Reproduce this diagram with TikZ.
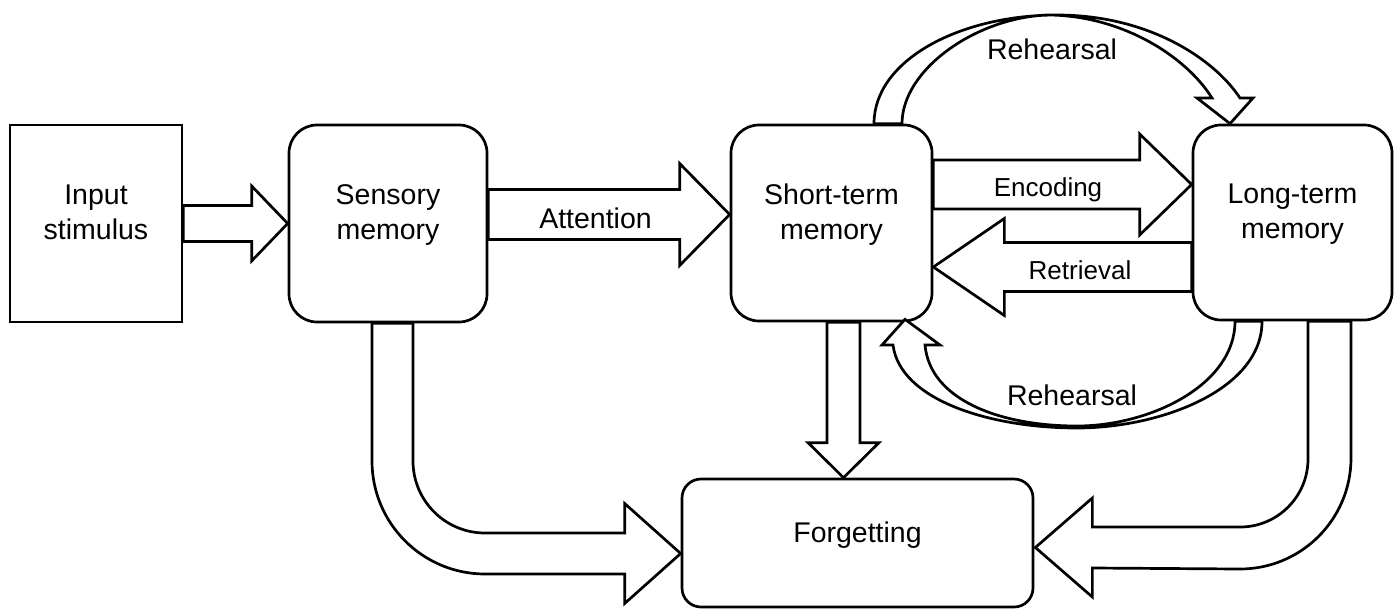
\documentclass[tikz,border=0pt]{standalone}
\usepackage{fontspec}
\setmainfont{Liberation Sans}
\usetikzlibrary{calc}
\newcommand{\bigtxt}{\fontsize{28.5}{35}\selectfont}
\newcommand{\smalltxt}{\fontsize{26}{31}\selectfont}
\tikzset{
  memb/.style={draw=black, line width=2.7pt, fill=white, rounded corners=28pt,
               align=center, font=\bigtxt, inner sep=0pt, text depth=22pt},
  inbox/.style={memb, sharp corners},
  fat/.style={draw=black, line width=2.7pt, fill=white, line join=miter},
  lbl/.style={font=\bigtxt, anchor=base, inner sep=0pt},
  slbl/.style={lbl, font=\smalltxt},
}
% block arrow: base, tip, half body, half head, head length
\newcommand{\fatarrow}[5]{%
  \coordinate (hb) at ($(#2)!#5pt!(#1)$);
  \draw[fat] ($(#1)!#3pt!90:(#2)$) -- ($(hb)!#3pt!-90:(#1)$) -- ($(hb)!#4pt!-90:(#1)$) -- (#2)
    -- ($(hb)!#4pt!90:(#1)$) -- ($(hb)!#3pt!90:(#1)$) -- ($(#1)!#3pt!-90:(#2)$) -- cycle;}

\begin{document}
\begin{tikzpicture}[x=1pt, y=1pt]
  \useasboundingbox (0,0) rectangle (1397,-608);
  \node[inbox, minimum width=172pt, minimum height=197pt] (inp) at (96,-223.5) {Input\\stimulus};
  \node[memb, minimum width=198pt, minimum height=197pt] (sens) at (388,-223.5) {Sensory\\memory};
  \node[memb, minimum width=201pt, minimum height=196pt] (stm) at (831.5,-223) {Short-term\\memory};
  \node[memb, minimum width=199pt, minimum height=195pt] (ltm) at (1292.5,-222.5) {Long-term\\memory};
  \node[memb, rounded corners=19pt, minimum width=351pt, minimum height=128pt,
        text height=20.5pt, text depth=21pt] (forg) at (857.5,-543) {Forgetting};

  % straight arrows
  \fatarrow{inp.east}{sens.west}{18}{37.5}{36}
  \coordinate (at1) at ($(sens.east)+(0,9)$);
  \coordinate (at2) at (at1 -| stm.west);
  \fatarrow{at1}{at2}{25}{51}{50}
  \coordinate (en1) at ($(stm.east)+(0,38.5)$);
  \coordinate (en2) at (en1 -| ltm.west);
  \fatarrow{en1}{en2}{24.5}{50.5}{52}
  \coordinate (re1) at ($(ltm.west)+(0,-44.5)$);
  \coordinate (re2) at (re1 -| stm.east);
  \fatarrow{re1}{re2}{24.5}{48.5}{71}
  \coordinate (dn1) at ($(stm.south)+(12,0)$);
  \coordinate (dn2) at (dn1 |- forg.north);
  \fatarrow{dn1}{dn2}{16.5}{35.5}{35}

  % bent arrows into forgetting
  \coordinate (sa) at ($(sens.south)+(4.5,0)$);
  \coordinate (sf) at ($(forg.west)+(0,-10.5)$);
  \draw[fat] ($(sa)+(-20.5,0)$) -- ($(sa |- sf)+(-20.5,92.5)$) arc[start angle=180, end angle=270, radius=113pt]
    -- ($(sf)+(-56,-20.5)$) -- ($(sf)+(-56,-50)$) -- (sf) -- ($(sf)+(-56,50)$) -- ($(sf)+(-56,20.5)$)
    -- ($(sa |- sf)+(92.5,20.5)$) arc[start angle=270, end angle=180, radius=72pt] -- ($(sa)+(20.5,0)$) -- cycle;
  \coordinate (la) at ($(ltm.south)+(37,0)$);
  \coordinate (lf) at ($(forg.east)+(1,-4.5)$);
  \draw[fat] ($(la)+(21.5,0)$) -- ($(la |- lf)+(21.5,89.5)$) arc[start angle=0, end angle=-90, radius=111pt]
    -- ($(lf)+(57,-20.5)$) -- ($(lf)+(57,-49.5)$) -- (lf) -- ($(lf)+(57,49.5)$) -- ($(lf)+(57,20.5)$)
    -- ($(la |- lf)+(-89.5,20.5)$) arc[start angle=-90, end angle=0, radius=68pt] -- ($(la)+(-21.5,0)$) -- cycle;

  % rehearsal loops
  \coordinate (rt1) at ($(stm.north)+(42.5,0)$);
  \coordinate (rt2) at ($(stm.north)+(70.5,0)$);
  \coordinate (rt3) at ($(ltm.north)+(-62.5,0)$);
  \draw[fat] (rt1) .. controls (874,-60) and (960,-15) .. (1057,-15) .. controls (1150,-15) and (1215,-60) .. (1240,-98)
    -- (1253,-98) -- (rt3) -- (1197,-98) -- (1212,-98)
    .. controls (1185,-55) and (1120,-15) .. (1047,-15) .. controls (975,-18) and (902,-70) .. (rt2) -- cycle;
  \coordinate (rb1) at ($(ltm.south)+(-30.5,0)$);
  \coordinate (rb2) at ($(ltm.south)+(-57.5,0)$);
  \coordinate (rb3) at ($(stm.south)+(73.5,3)$);
  \draw[fat] (rb1) .. controls (1262,-390) and (1160,-428) .. (1077,-428) .. controls (990,-428) and (900,-400) .. (893,-345)
    -- (882,-345) -- (rb3) -- (940,-345) -- (925,-345)
    .. controls (930,-400) and (1000,-426) .. (1077,-426) .. controls (1150,-426) and (1235,-385) .. (rb2) -- cycle;

  % labels
  \node[lbl] (attn) at (595.5,-228) {Attention};
  \node[slbl] (enc) at (1048,-196) {Encoding};
  \node[slbl] (retr) at (1080,-279) {Retrieval};
  \node[lbl] (rehtop) at (1052,-59) {Rehearsal};
  \node[lbl] (rehbot) at (1072,-405) {Rehearsal};
\end{tikzpicture}
\end{document}
